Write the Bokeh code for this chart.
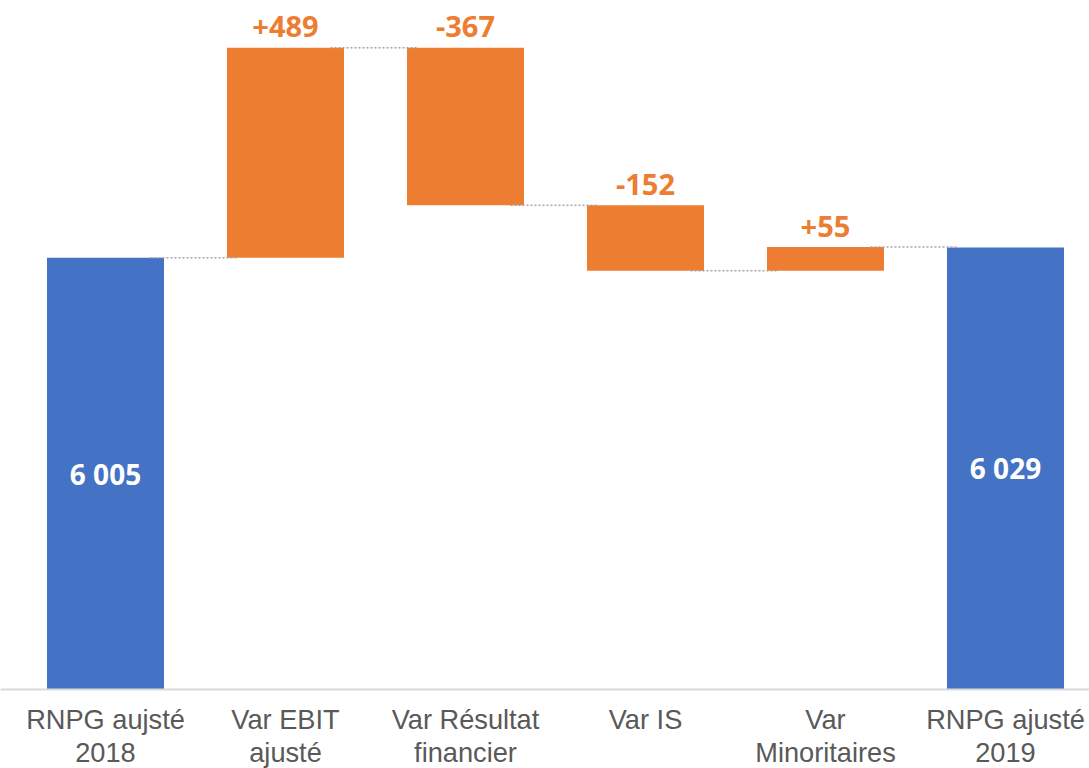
from bokeh.plotting import figure
from bokeh.models import Range1d, ColumnDataSource, Span
from bokeh.core.properties import value
from bokeh.embed import file_html
from bokeh.resources import INLINE

categories = ["RNPG aujsté\n2018", "Var EBIT\najusté", "Var Résultat\nfinancier",
              "Var IS", "Var\nMinoritaires", "RNPG ajusté\n2019"]
values = [6005, 489, -367, -152, 55, 6029]
is_total = [True, False, False, False, False, True]
bar_labels = ["6 005", "+489", "-367", "-152", "+55", "6 029"]
axis_start = 5000  # value axis begins here (truncated axis)

BLUE = "#4472C4"
ORANGE = "#ED7D31"

xs = list(range(len(categories)))
bottoms, tops, colors = [], [], []
level = 0
for v, tot in zip(values, is_total):
    if tot:
        bottoms.append(axis_start)
        tops.append(v)
        colors.append(BLUE)
        level = v
    else:
        new = level + v
        bottoms.append(min(level, new))
        tops.append(max(level, new))
        colors.append(ORANGE)
        level = new

p = figure(width=1089, height=768, output_backend="svg", toolbar_location=None,
           x_range=Range1d(-0.5833, 5.4667), y_range=Range1d(4816.1, 6603.8),
           min_border=0)
p.outline_line_color = None
p.grid.visible = False
p.xaxis.visible = False
p.yaxis.visible = False
p.background_fill_color = "white"
p.border_fill_color = "white"

# category axis baseline
p.add_layout(Span(location=axis_start, dimension="width",
                  line_color="#D9D9D9", line_width=2))

src = ColumnDataSource(dict(x=xs, bottom=bottoms, top=tops, color=colors))
p.vbar(x="x", bottom="bottom", top="top", width=0.65, fill_color="color",
       line_color=None, source=src)

# connectors
cx0, cx1, cy = [], [], []
level = 0
for i, (v, tot) in enumerate(zip(values, is_total)):
    if i == len(values) - 1:
        break
    level = v if tot else level + v
    cx0.append(i + 0.25)
    cx1.append(i + 1 - 0.27)
    cy.append(level)
p.segment(x0=cx0, y0=cy, x1=cx1, y1=cy, line_color="#A6A6A6",
          line_width=1.5, line_dash="2 2")

# delta labels above bars
dx = [i for i in xs if not is_total[i]]
dy = [tops[i] for i in dx]
dt = [bar_labels[i] for i in dx]
p.text(x=dx, y=dy, text=dt, text_align="center", text_baseline="alphabetic",
       y_offset=-21, text_color=ORANGE, text_font=value("Open Sans"),
       text_font_size="29px", text_font_style="bold")

# total labels inside bars
tx = [i for i in xs if is_total[i]]
ty = [(axis_start + tops[i]) / 2 for i in tx]
tt = [bar_labels[i] for i in tx]
p.text(x=tx, y=ty, text=tt, text_align="center", text_baseline="middle",
       text_color="white", text_font=value("Open Sans"),
       text_font_size="28px", text_font_style="bold")

# category labels under the axis
p.text(x=xs, y=[axis_start] * len(xs), text=categories, text_align="center",
       text_baseline="top", y_offset=15, text_color="#595959",
       text_font=value("Liberation Sans"), text_font_size="27.2px",
       text_line_height=1.06)

open("out.html", "w").write(file_html(p, INLINE))
